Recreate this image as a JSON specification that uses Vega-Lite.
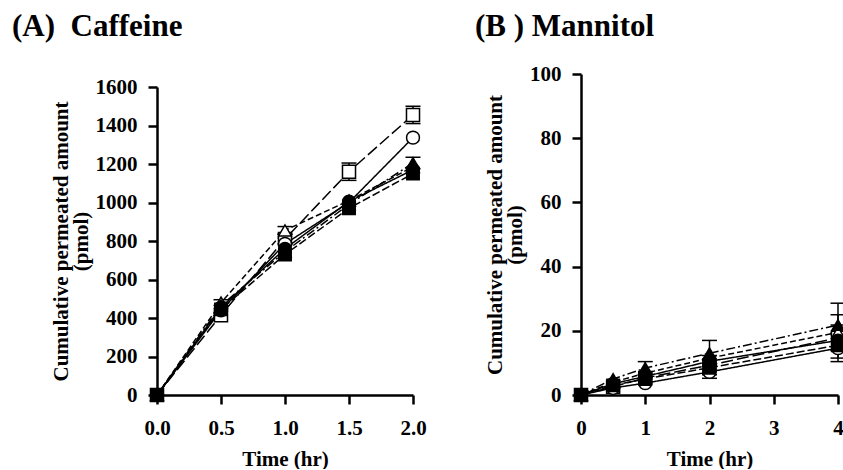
{
  "$schema": "https://vega.github.io/schema/vega-lite/v6.json",
  "background": "white",
  "padding": {"left": 12, "top": 11, "right": 2, "bottom": 0},
  "config": {
    "font": "Liberation Serif",
    "view": {"stroke": null},
    "concat": {"spacing": 48},
    "axis": {
      "domainColor": "black", "domainWidth": 2.5, "tickColor": "black", "tickWidth": 2.5, "tickSize": 9,
      "labelFont": "Liberation Serif", "labelFontSize": 21, "labelFontWeight": "bold", "labelColor": "black",
      "titleFont": "Liberation Serif", "titleFontSize": 21, "titleFontWeight": "bold", "titleColor": "black",
      "grid": false, "labelFlush": false
    },
    "axisX": {"labelPadding": 13, "titlePadding": 10},
    "axisY": {"labelPadding": 11, "titlePadding": 4, "titleLineHeight": 20},
    "title": {"font": "Liberation Serif", "fontSize": 31, "fontWeight": "bold", "anchor": "start", "frame": "group", "color": "black"}
  },
  "datasets": {
    "caf": [
      {"s": "S1", "t": 0, "v": 0}, {"s": "S1", "t": 0.5, "v": 415}, {"s": "S1", "t": 1, "v": 810, "lo": 785, "hi": 835}, {"s": "S1", "t": 1.5, "v": 1160, "lo": 1115, "hi": 1205}, {"s": "S1", "t": 2, "v": 1455, "lo": 1410, "hi": 1500},
      {"s": "S2", "t": 0, "v": 0}, {"s": "S2", "t": 0.5, "v": 440}, {"s": "S2", "t": 1, "v": 785}, {"s": "S2", "t": 1.5, "v": 1000}, {"s": "S2", "t": 2, "v": 1337},
      {"s": "S3", "t": 0, "v": 0}, {"s": "S3", "t": 0.5, "v": 480, "lo": 465, "hi": 495}, {"s": "S3", "t": 1, "v": 855, "lo": 835, "hi": 875}, {"s": "S3", "t": 1.5, "v": 1010}, {"s": "S3", "t": 2, "v": 1185},
      {"s": "S4", "t": 0, "v": 0}, {"s": "S4", "t": 0.5, "v": 455}, {"s": "S4", "t": 1, "v": 760}, {"s": "S4", "t": 1.5, "v": 1005}, {"s": "S4", "t": 2, "v": 1170},
      {"s": "S5", "t": 0, "v": 0}, {"s": "S5", "t": 0.5, "v": 445}, {"s": "S5", "t": 1, "v": 730}, {"s": "S5", "t": 1.5, "v": 970}, {"s": "S5", "t": 2, "v": 1150},
      {"s": "S6", "t": 0, "v": 0}, {"s": "S6", "t": 0.5, "v": 465}, {"s": "S6", "t": 1, "v": 745}, {"s": "S6", "t": 1.5, "v": 990}, {"s": "S6", "t": 2, "v": 1205, "lo": 1175, "hi": 1235}
    ],
    "man": [
      {"s": "S1", "t": 0, "v": 0}, {"s": "S1", "t": 0.5, "v": 2.6}, {"s": "S1", "t": 1, "v": 5.3}, {"s": "S1", "t": 2, "v": 9.3, "lo": 6.3, "hi": 12.3}, {"s": "S1", "t": 4, "v": 17.8, "lo": 13.8, "hi": 21.8},
      {"s": "S2", "t": 0, "v": 0}, {"s": "S2", "t": 0.5, "v": 2.2}, {"s": "S2", "t": 1, "v": 3.7}, {"s": "S2", "t": 2, "v": 7.2, "lo": 5.2, "hi": 9.2}, {"s": "S2", "t": 4, "v": 14.6, "lo": 10.4, "hi": 18.8},
      {"s": "S3", "t": 0, "v": 0}, {"s": "S3", "t": 0.5, "v": 4}, {"s": "S3", "t": 1, "v": 6.8}, {"s": "S3", "t": 2, "v": 11.5}, {"s": "S3", "t": 4, "v": 19.5, "lo": 14, "hi": 25},
      {"s": "S4", "t": 0, "v": 0}, {"s": "S4", "t": 0.5, "v": 3.5}, {"s": "S4", "t": 1, "v": 5.8}, {"s": "S4", "t": 2, "v": 10.5}, {"s": "S4", "t": 4, "v": 17},
      {"s": "S5", "t": 0, "v": 0}, {"s": "S5", "t": 0.5, "v": 3}, {"s": "S5", "t": 1, "v": 5}, {"s": "S5", "t": 2, "v": 8.5}, {"s": "S5", "t": 4, "v": 15.5, "lo": 11.5, "hi": 19.5},
      {"s": "S6", "t": 0, "v": 0}, {"s": "S6", "t": 0.5, "v": 5}, {"s": "S6", "t": 1, "v": 8.4, "lo": 6.4, "hi": 10.4}, {"s": "S6", "t": 2, "v": 13, "lo": 9, "hi": 17}, {"s": "S6", "t": 4, "v": 21.8, "lo": 15, "hi": 28.6}
    ]
  },
  "hconcat": [
    {
      "title": {"text": "(A)\u00a0 Caffeine", "dx": -145, "offset": 31},
      "width": 256, "height": 321,
      "data": {"name": "caf"},
      "encoding": {
        "x": {"field": "t", "type": "quantitative", "scale": {"domain": [0, 2]}, "axis": {"values": [0, 0.5, 1, 1.5, 2], "format": ".1f", "title": "Time (hr)"}},
        "y": {"field": "v", "type": "quantitative", "scale": {"domain": [0, 1600], "range": [321, 13]}, "axis": {"values": [0, 200, 400, 600, 800, 1000, 1200, 1400, 1600], "format": "d", "title": ["Cumulative permeated amount", "(pmol)"]}}
      },
      "layer": [
        {"mark": {"type": "line", "color": "black", "strokeWidth": 1.5},
         "encoding": {"detail": {"field": "s"}, "strokeDash": {"field": "s", "type": "nominal", "legend": null, "scale": {"domain": ["S1", "S2", "S3", "S4", "S5", "S6"], "range": [[12, 4], [1, 0], [6, 3], [1, 0], [8, 3], [9, 3, 2, 3]]}}}},
        {"transform": [{"filter": "datum.lo != null"}], "mark": {"type": "rule", "color": "black", "strokeWidth": 1.5},
         "encoding": {"y": {"field": "lo", "type": "quantitative", "title": ["Cumulative permeated amount", "(pmol)"]}, "y2": {"field": "hi"}}},
        {"transform": [{"filter": "datum.lo != null"}], "mark": {"type": "tick", "orient": "horizontal", "color": "black", "size": 15, "thickness": 1.5, "opacity": 1},
         "encoding": {"y": {"field": "lo", "type": "quantitative", "title": ["Cumulative permeated amount", "(pmol)"]}}},
        {"transform": [{"filter": "datum.lo != null"}], "mark": {"type": "tick", "orient": "horizontal", "color": "black", "size": 15, "thickness": 1.5, "opacity": 1},
         "encoding": {"y": {"field": "hi", "type": "quantitative", "title": ["Cumulative permeated amount", "(pmol)"]}}},
        {"mark": {"type": "point", "filled": true, "stroke": "black", "strokeWidth": 1.5, "opacity": 1},
         "encoding": {
           "shape": {"field": "s", "type": "nominal", "legend": null, "scale": {"domain": ["S1", "S2", "S3", "S4", "S5", "S6"], "range": ["square", "circle", "triangle-up", "circle", "square", "triangle-up"]}},
           "size": {"field": "s", "type": "nominal", "legend": null, "scale": {"domain": ["S1", "S2", "S3", "S4", "S5", "S6"], "range": [170, 150, 210, 150, 170, 210]}},
           "fill": {"field": "s", "type": "nominal", "legend": null, "scale": {"domain": ["S1", "S2", "S3", "S4", "S5", "S6"], "range": ["white", "white", "white", "black", "black", "black"]}}
         }}
      ]
    },
    {
      "title": {"text": "(B ) Mannitol", "dx": -106, "offset": 20},
      "width": 257, "height": 321,
      "data": {"name": "man"},
      "encoding": {
        "x": {"field": "t", "type": "quantitative", "scale": {"domain": [0, 4]}, "axis": {"values": [0, 1, 2, 3, 4], "format": "d", "title": "Time (hr)"}},
        "y": {"field": "v", "type": "quantitative", "scale": {"domain": [0, 100]}, "axis": {"values": [0, 20, 40, 60, 80, 100], "title": ["Cumulative permeated amount", "(pmol)"]}}
      },
      "layer": [
        {"mark": {"type": "line", "color": "black", "strokeWidth": 1.5},
         "encoding": {"detail": {"field": "s"}, "strokeDash": {"field": "s", "type": "nominal", "legend": null, "scale": {"domain": ["S1", "S2", "S3", "S4", "S5", "S6"], "range": [[1, 0], [1, 0], [8, 4], [1, 0], [12, 4], [14, 4, 2, 4]]}}}},
        {"transform": [{"filter": "datum.lo != null"}], "mark": {"type": "rule", "color": "black", "strokeWidth": 1.5},
         "encoding": {"y": {"field": "lo", "type": "quantitative", "title": ["Cumulative permeated amount", "(pmol)"]}, "y2": {"field": "hi"}}},
        {"transform": [{"filter": "datum.lo != null"}], "mark": {"type": "tick", "orient": "horizontal", "color": "black", "size": 15, "thickness": 1.5, "opacity": 1},
         "encoding": {"y": {"field": "lo", "type": "quantitative", "title": ["Cumulative permeated amount", "(pmol)"]}}},
        {"transform": [{"filter": "datum.lo != null"}], "mark": {"type": "tick", "orient": "horizontal", "color": "black", "size": 15, "thickness": 1.5, "opacity": 1},
         "encoding": {"y": {"field": "hi", "type": "quantitative", "title": ["Cumulative permeated amount", "(pmol)"]}}},
        {"mark": {"type": "point", "filled": true, "stroke": "black", "strokeWidth": 1.5, "opacity": 1},
         "encoding": {
           "shape": {"field": "s", "type": "nominal", "legend": null, "scale": {"domain": ["S1", "S2", "S3", "S4", "S5", "S6"], "range": ["square", "circle", "triangle-up", "circle", "square", "triangle-up"]}},
           "size": {"field": "s", "type": "nominal", "legend": null, "scale": {"domain": ["S1", "S2", "S3", "S4", "S5", "S6"], "range": [170, 150, 210, 150, 170, 210]}},
           "fill": {"field": "s", "type": "nominal", "legend": null, "scale": {"domain": ["S1", "S2", "S3", "S4", "S5", "S6"], "range": ["white", "white", "white", "black", "black", "black"]}}
         }}
      ]
    }
  ]
}
